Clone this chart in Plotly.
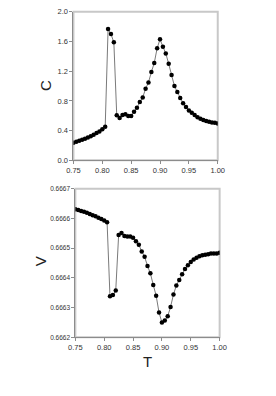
import plotly.graph_objects as go

T = [round(0.75 + 0.005 * i, 3) for i in range(51)]

C = [0.237, 0.250, 0.263, 0.277, 0.292, 0.308, 0.326, 0.346, 0.367, 0.390, 0.418, 0.453,
     1.77, 1.70, 1.59, 0.607, 0.571, 0.611, 0.620, 0.598, 0.598, 0.655, 0.708, 0.787,
     0.848, 0.963, 1.05, 1.19, 1.31, 1.51, 1.63, 1.53, 1.44, 1.30, 1.15, 1.00, 0.92,
     0.84, 0.77, 0.72, 0.67, 0.64, 0.61, 0.58, 0.56, 0.545, 0.53, 0.52, 0.51, 0.505, 0.497]

V = [0.666631, 0.666628, 0.666625, 0.666622, 0.666619, 0.666615, 0.666611, 0.666607,
     0.666602, 0.666598, 0.666593, 0.666587,
     0.666338, 0.666342, 0.666357, 0.666544, 0.666551, 0.666541, 0.666539, 0.666539,
     0.666535, 0.666523, 0.666511, 0.666489, 0.666471, 0.666440, 0.666415, 0.666376,
     0.666340, 0.666283, 0.666250, 0.666256, 0.666271, 0.666302, 0.666344, 0.666374,
     0.666393, 0.666412, 0.666430, 0.666442, 0.666453, 0.666462, 0.666468, 0.666473,
     0.666476, 0.666478, 0.666479, 0.666482, 0.666482, 0.666482, 0.666484]

W, H = 276, 396
FONT = "Liberation Sans, Arial, sans-serif"

fig = go.Figure()
style = dict(mode="lines+markers", line=dict(color="#7a7a7a", width=1),
             marker=dict(color="black", size=4.5), showlegend=False)
fig.add_trace(go.Scatter(x=T, y=C, xaxis="x", yaxis="y", **style))
fig.add_trace(go.Scatter(x=T, y=V, xaxis="x2", yaxis="y2", **style))

ax_common = dict(showline=True, linecolor="#8c8c8c", linewidth=1, ticks="outside",
                 ticklen=3, tickcolor="#8c8c8c", showgrid=False, zeroline=False,
                 tickfont=dict(family=FONT, size=7.5, color="#333333"))

fig.update_layout(
    width=W, height=H, margin=dict(l=0, r=0, t=0, b=0),
    paper_bgcolor="white", plot_bgcolor="white",
    xaxis=dict(domain=[70 / W, 222 / W], range=[0.75, 1.0], dtick=0.05, tickformat=".2f",
               anchor="y", **ax_common),
    yaxis=dict(domain=[1 - 160 / H, 1 - 8 / H], range=[0, 2.0], dtick=0.4, tickformat=".1f",
               anchor="x", **ax_common),
    xaxis2=dict(domain=[72 / W, 224 / W], range=[0.75, 1.0], dtick=0.05, tickformat=".2f",
                anchor="y2", **ax_common),
    yaxis2=dict(domain=[1 - 341 / H, 1 - 189 / H], range=[0.6662, 0.6667], dtick=0.0001,
                tickformat=".4f", anchor="x2",
                **{**ax_common, "tickfont": dict(family=FONT, size=6.5, color="#333333")}),
)

for xr, yr in (("x", "y"), ("x2", "y2")):
    fig.add_shape(type="rect", xref=f"{xr} domain", yref=f"{yr} domain", x0=0, x1=1, y0=0, y1=1,
                  line=dict(color="#c8c8c8", width=2), layer="below")

title_font = dict(family=FONT, size=15, color="#222")
anno = dict(xref="paper", yref="paper", showarrow=False, xanchor="center", yanchor="middle",
            font=title_font)
fig.add_annotation(text="C", x=40 / W, y=1 - 83 / H, textangle=-90, **anno)
fig.add_annotation(text="V", x=35 / W, y=1 - 263 / H, textangle=-90, **anno)
fig.add_annotation(text="T", x=148 / W, y=1 - 366 / H, **anno)

fig.write_html("out.html", config={"displayModeBar": False},
               post_script="document.body.style.margin='0';document.body.style.overflow='hidden';")
